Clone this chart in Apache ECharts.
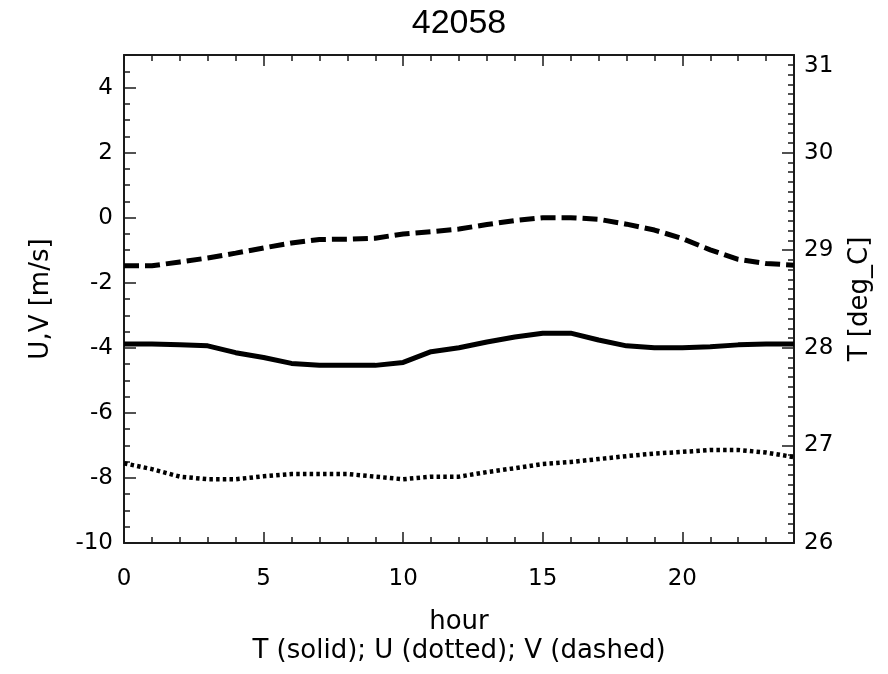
<!DOCTYPE html>
<html>
<head>
<meta charset="utf-8">
<script src="https://cdn.jsdelivr.net/npm/echarts@6/dist/echarts.min.js"></script>
<style>
html,body{margin:0;padding:0;background:#fff;}
#chart{width:888px;height:674px;}
</style>
</head>
<body>
<div id="chart"></div>
<script>
// ---- data ----
const titleText = '42058';
const hours = [0,1,2,3,4,5,6,7,8,9,10,11,12,13,14,15,16,17,18,19,20,21,22,23,24];
const T = [28.04,28.04,28.03,28.02,27.95,27.90,27.84,27.82,27.82,27.82,27.85,27.96,28.00,28.06,28.11,28.15,28.15,28.08,28.02,28.00,28.00,28.01,28.03,28.04,28.04];
const U = [-7.55,-7.73,-7.96,-8.04,-8.04,-7.95,-7.88,-7.88,-7.88,-7.96,-8.04,-7.96,-7.96,-7.82,-7.70,-7.57,-7.51,-7.42,-7.33,-7.25,-7.20,-7.14,-7.14,-7.22,-7.36];
const V = [-1.48,-1.48,-1.36,-1.24,-1.09,-0.93,-0.78,-0.67,-0.66,-0.63,-0.50,-0.43,-0.35,-0.21,-0.09,0.00,0.00,-0.05,-0.20,-0.38,-0.64,-0.99,-1.28,-1.41,-1.46];
const xTickLabels = [0,5,10,15,20];
const uvTickLabels = [-10,-8,-6,-4,-2,0,2,4];
const tTickLabels = [26,27,28,29,30,31];
const xName = 'hour';
const uvName = 'U,V [m/s]';
const tName = 'T [deg_C]';
const caption = 'T (solid); U (dotted); V (dashed)';

const AX = '#1a1a1a';
const FONT = '"DejaVu Sans", sans-serif';
const LBL = {fontSize:23, fontFamily:FONT, color:'#000'};
const NAME = {fontSize:26, fontFamily:FONT, color:'#000'};

function pairs(arr){ return hours.map((h,i)=>[h, arr[i]]); }

const chart = echarts.init(document.getElementById('chart'), null, {renderer:'canvas'});
const option = {
  animation:false,
  backgroundColor:'#fff',
  grid:{left:124, right:94, top:55, bottom:131, containLabel:false},
  graphic:[
    {type:'text', x:459, y:24, style:{text:titleText, font:'34px "Liberation Sans", Arial, sans-serif', fill:'#000', align:'center', verticalAlign:'middle'}},
    {type:'text', x:459, y:651, style:{text:caption, font:'26px "DejaVu Sans", sans-serif', fill:'#000', align:'center', verticalAlign:'middle'}}
  ],
  xAxis:[
    {type:'value', position:'bottom', min:0, max:24, interval:5,
     axisLine:{show:true, onZero:false, lineStyle:{color:AX, width:2}},
     axisTick:{show:true, inside:true, length:11, lineStyle:{color:AX, width:1.5}},
     axisLabel:Object.assign({margin:25, showMinLabel:true, showMaxLabel:true,
       formatter:v => xTickLabels.indexOf(v) >= 0 ? String(v) : ''}, LBL),
     splitLine:{show:false},
     name:xName, nameLocation:'middle', nameGap:66, nameTextStyle:NAME},
    {type:'value', position:'bottom', min:0, max:24, interval:1,
     axisLine:{show:false, onZero:false}, axisTick:{show:true, inside:true, length:6, lineStyle:{color:AX, width:1.5}},
     axisLabel:{show:false}, splitLine:{show:false}},
    {type:'value', position:'top', min:0, max:24, interval:5,
     axisLine:{show:true, onZero:false, lineStyle:{color:AX, width:2}},
     axisTick:{show:true, inside:true, length:11, lineStyle:{color:AX, width:1.5}},
     axisLabel:{show:false}, splitLine:{show:false}},
    {type:'value', position:'top', min:0, max:24, interval:1,
     axisLine:{show:false, onZero:false}, axisTick:{show:true, inside:true, length:6, lineStyle:{color:AX, width:1.5}},
     axisLabel:{show:false}, splitLine:{show:false}}
  ],
  yAxis:[
    {type:'value', position:'left', min:-10, max:5, interval:2,
     axisLine:{show:true, onZero:false, lineStyle:{color:AX, width:2}},
     axisTick:{show:true, inside:true, length:12, lineStyle:{color:AX, width:1.5}},
     axisLabel:Object.assign({margin:11, showMinLabel:true, showMaxLabel:true,
       formatter:v => uvTickLabels.indexOf(v) >= 0 ? String(v) : ''}, LBL),
     splitLine:{show:false},
     name:uvName, nameLocation:'middle', nameRotate:90, nameGap:70, nameTextStyle:NAME},
    {type:'value', position:'right', min:26, max:31, interval:1,
     axisLine:{show:true, onZero:false, lineStyle:{color:AX, width:2}},
     axisTick:{show:true, inside:true, length:12, lineStyle:{color:AX, width:1.5}},
     minorTick:{show:true, splitNumber:10, length:6, lineStyle:{color:AX, width:1.5}},
     axisLabel:Object.assign({margin:10, showMinLabel:true, showMaxLabel:true,
       formatter:v => {
         if (tTickLabels.indexOf(v) < 0) return '';
         return v === tTickLabels[tTickLabels.length - 1] ? '{top|' + v + '}' : String(v);
       },
       rich:{top:{fontSize:23, fontFamily:FONT, color:'#000', padding:[22,0,0,0]}}}, LBL),
     splitLine:{show:false},
     name:tName, nameLocation:'middle', nameRotate:90, nameGap:53, nameTextStyle:NAME},
    {type:'value', position:'left', min:-10, max:5, interval:0.5,
     axisLine:{show:false, onZero:false}, axisTick:{show:true, inside:true, length:6, lineStyle:{color:AX, width:1.5}},
     axisLabel:{show:false}, splitLine:{show:false}}
  ],
  series:[
    {name:'T', type:'line', xAxisIndex:0, yAxisIndex:1, data:pairs(T), symbol:'none', smooth:false,
     lineStyle:{color:'#000', width:5, type:'solid'}},
    {name:'U', type:'line', xAxisIndex:0, yAxisIndex:0, data:pairs(U), symbol:'none', smooth:false,
     lineStyle:{color:'#000', width:4.5, type:[3.5,3.2], cap:'butt'}},
    {name:'V', type:'line', xAxisIndex:0, yAxisIndex:0, data:pairs(V), symbol:'none', smooth:false,
     lineStyle:{color:'#000', width:5, type:[15,6], cap:'butt'}}
  ]
};
chart.setOption(option);
</script>
</body>
</html>
